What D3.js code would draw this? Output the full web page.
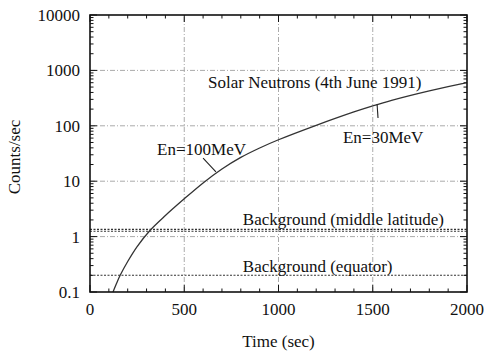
<!DOCTYPE html>
<html>
<head>
<meta charset="utf-8">
<script src="https://cdn.jsdelivr.net/npm/d3@7"></script>
<style>
  * { margin: 0; padding: 0; }
  body { background: #fff; }
  svg text { font-family: "Liberation Serif", "DejaVu Serif", serif; fill: #111; }
  .grid { stroke: #aaa; stroke-width: 1; stroke-dasharray: 5,2,1,2; }
</style>
</head>
<body>
<svg id="chart" width="487" height="353"></svg>
<script>
// solar neutron curve
var times  = [122, 140, 160, 200, 250, 318, 400, 500, 600, 700, 800, 900, 1000, 1200, 1400, 1500, 1600, 1800, 2000];
var counts = [0.1, 0.141, 0.2, 0.355, 0.66, 1.29, 2.4, 4.8, 9.3, 16.6, 26.9, 39.8, 56, 102, 178, 229, 288, 427, 603];

var xTicks = [0, 500, 1000, 1500, 2000];
var yTicks = [0.1, 1, 10, 100, 1000, 10000];
var yTickLabels = ["0.1", "1", "10", "100", "1000", "10000"];

// background levels
var bgMiddle = [1.25, 1.35];
var bgEquator = [0.2];

var width = 487, height = 353,
    m = {left: 90, right: 20, top: 15, bottom: 61};

var svg = d3.select("#chart");
var x = d3.scaleLinear().domain([0, 2000]).range([m.left, width - m.right]);
var y = d3.scaleLog().domain([0.1, 10000]).range([height - m.bottom, m.top]);

// grid
svg.selectAll(".gx").data(xTicks.slice(1, -1)).enter().append("line")
  .attr("class", "grid")
  .attr("x1", x).attr("x2", x)
  .attr("y1", y(0.1)).attr("y2", y(10000));
svg.selectAll(".gy").data(yTicks.slice(1, -1)).enter().append("line")
  .attr("class", "grid")
  .attr("y1", y).attr("y2", y)
  .attr("x1", x(0)).attr("x2", x(2000));

// background lines
svg.selectAll(".bg").data(bgMiddle.concat(bgEquator)).enter().append("line")
  .attr("x1", x(0)).attr("x2", x(2000))
  .attr("y1", y).attr("y2", y)
  .attr("stroke", "#333").attr("stroke-width", 1.1)
  .attr("stroke-dasharray", "2,1.5");

// curve
var line = d3.line()
  .x(function (d, i) { return x(times[i]); })
  .y(function (d) { return y(d); })
  .curve(d3.curveCatmullRom);
svg.append("path").datum(counts)
  .attr("d", line)
  .attr("fill", "none")
  .attr("stroke", "#333")
  .attr("stroke-width", 1.3);

// ticks on all sides
var minorX = d3.range(100, 2000, 100).filter(function (d) { return d % 500; });
var minorY = [];
[0.1, 1, 10, 100, 1000].forEach(function (d) {
  for (var k = 2; k < 10; k++) minorY.push(d * k);
});
var tk = svg.append("g").attr("stroke", "#111").attr("stroke-width", 1);
xTicks.forEach(function (d) {
  tk.append("line").attr("x1", x(d)).attr("x2", x(d)).attr("y1", y(0.1)).attr("y2", y(0.1) - 7);
  tk.append("line").attr("x1", x(d)).attr("x2", x(d)).attr("y1", y(10000)).attr("y2", y(10000) + 7);
});
minorX.forEach(function (d) {
  tk.append("line").attr("x1", x(d)).attr("x2", x(d)).attr("y1", y(0.1)).attr("y2", y(0.1) - 3.5);
  tk.append("line").attr("x1", x(d)).attr("x2", x(d)).attr("y1", y(10000)).attr("y2", y(10000) + 3.5);
});
yTicks.forEach(function (d) {
  tk.append("line").attr("y1", y(d)).attr("y2", y(d)).attr("x1", x(0)).attr("x2", x(0) + 7);
  tk.append("line").attr("y1", y(d)).attr("y2", y(d)).attr("x1", x(2000)).attr("x2", x(2000) - 7);
});
minorY.forEach(function (d) {
  tk.append("line").attr("y1", y(d)).attr("y2", y(d)).attr("x1", x(0)).attr("x2", x(0) + 3.5);
  tk.append("line").attr("y1", y(d)).attr("y2", y(d)).attr("x1", x(2000)).attr("x2", x(2000) - 3.5);
});

// frame
svg.append("rect")
  .attr("x", x(0)).attr("y", y(10000))
  .attr("width", x(2000) - x(0)).attr("height", y(0.1) - y(10000))
  .attr("fill", "none").attr("stroke", "#111").attr("stroke-width", 1.6);

// tick labels
svg.selectAll(".xl").data(xTicks).enter().append("text")
  .attr("x", x).attr("y", y(0.1) + 23)
  .attr("text-anchor", "middle").attr("font-size", 17)
  .text(function (d) { return d; });
svg.selectAll(".yl").data(yTicks).enter().append("text")
  .attr("x", x(0) - 10).attr("y", function (d) { return y(d) + 6; })
  .attr("text-anchor", "end").attr("font-size", 17)
  .text(function (d, i) { return yTickLabels[i]; });

// axis titles
svg.append("text")
  .attr("x", (x(0) + x(2000)) / 2).attr("y", 347)
  .attr("text-anchor", "middle").attr("font-size", 17)
  .text("Time (sec)");
svg.append("text")
  .attr("transform", "translate(20," + 157 + ") rotate(-90)")
  .attr("text-anchor", "middle").attr("font-size", 17)
  .text("Counts/sec");

// annotations
function label(t, v, s) {
  svg.append("text").attr("x", x(t)).attr("y", y(v))
    .attr("font-size", 17).text(s);
}
label(626, 480, "Solar Neutrons (4th June 1991)");
label(356, 29.7, "En=100MeV");
label(1342, 49, "En=30MeV");
label(811, 1.62, "Background (middle latitude)");
label(811, 0.23, "Background (equator)");

// pointer marks to the curve
svg.append("line")
  .attr("x1", x(600)).attr("y1", y(26))
  .attr("x2", x(668)).attr("y2", y(14.7))
  .attr("stroke", "#222").attr("stroke-width", 1.1);
svg.append("line")
  .attr("x1", x(1528)).attr("y1", y(138))
  .attr("x2", x(1523)).attr("y2", y(245))
  .attr("stroke", "#222").attr("stroke-width", 1.1);
</script>
</body>
</html>
